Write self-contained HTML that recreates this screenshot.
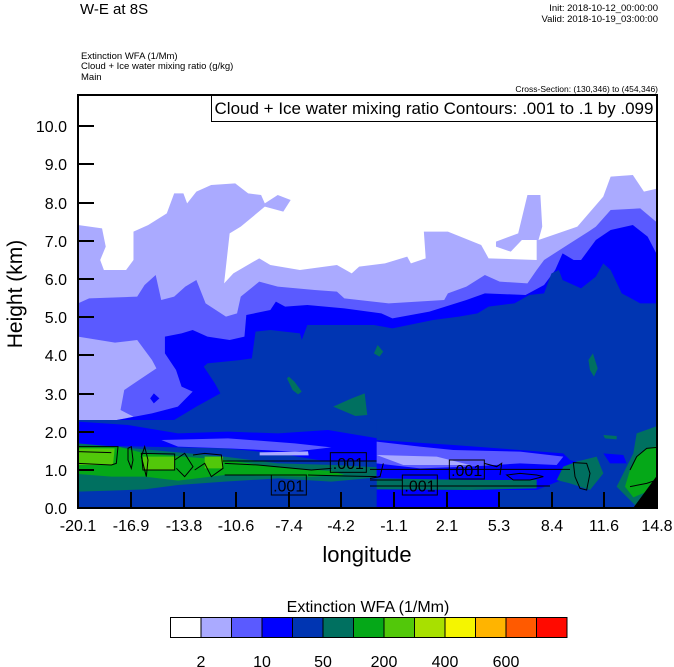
<!DOCTYPE html>
<html><head><meta charset="utf-8"><style>
html,body{margin:0;padding:0;background:#fff;}
svg{display:block;font-family:"Liberation Sans",Arial,sans-serif;}
</style></head><body>
<svg width="674" height="667" viewBox="0 0 674 667" xmlns="http://www.w3.org/2000/svg">
<rect width="674" height="667" fill="#fff"/>
<text x="80" y="14" font-size="15">W-E at 8S</text>
<text x="658" y="11" font-size="9.5" text-anchor="end">Init: 2018-10-12_00:00:00</text>
<text x="658" y="22" font-size="9.5" text-anchor="end">Valid: 2018-10-19_03:00:00</text>
<text x="81" y="59" font-size="9.5">Extinction WFA   (1/Mm)</text>
<text x="81" y="69" font-size="9.5">Cloud + Ice water mixing ratio    (g/kg)</text>
<text x="81" y="80" font-size="9.5">Main</text>
<text x="658" y="92" font-size="8.5" text-anchor="end">Cross-Section: (130,346) to (454,346)</text>

<defs><clipPath id="pc"><rect x="78" y="95" width="579" height="413"/></clipPath></defs>
<g clip-path="url(#pc)">
<rect x="78" y="95" width="579" height="413" fill="#fff"/>
<g transform="translate(78 160) scale(0.3699 0.33333)">
<polygon fill="#AAAAFF" points="0,195 65,205 75,260 60,300 70,330 130,330 150,300 150,215 190,195 240,160 260,100 285,100 295,130 320,95 360,75 425,70 460,100 495,105 505,130 540,105 575,120 555,155 505,140 440,200 410,220 395,370 420,340 490,295 520,315 600,330 700,315 740,340 760,320 830,310 890,290 900,310 940,295 935,215 1000,215 1090,255 1110,295 1240,300 1240,240 1200,240 1170,275 1130,260 1130,245 1190,220 1215,105 1250,105 1255,200 1245,240 1350,200 1420,110 1440,50 1500,45 1530,95 1568,85 1740,85 1740,900 0,900"/>
<polygon fill="#5A5AFF" points="0,430 30,415 160,410 180,375 210,345 225,420 260,410 290,380 320,360 345,430 400,470 430,460 440,410 490,365 540,380 640,390 700,395 720,415 840,430 990,420 1000,400 1050,380 1100,345 1140,365 1215,370 1240,330 1260,300 1330,250 1380,215 1400,200 1440,150 1520,145 1568,190 1740,190 1740,900 0,900"/>
<polygon fill="#AAAAFF" points="0,530 100,548 160,540 200,600 212,625 165,660 125,690 115,750 150,770 60,790 0,790"/>
<polygon fill="#0000FF" points="0,800 130,775 200,760 270,740 310,695 280,680 265,630 235,580 235,530 280,520 310,510 350,530 410,540 450,530 455,465 520,450 535,425 560,440 620,435 720,445 820,460 850,475 950,455 1050,420 1100,400 1210,405 1260,375 1290,330 1310,280 1340,300 1360,300 1400,240 1440,210 1500,195 1540,230 1568,290 1740,290 1740,900 0,900"/>
<polygon fill="#0000FF" points="195,715 205,700 220,715 205,730"/>
<polygon fill="#0035B2" points="0,835 200,830 260,780 320,740 385,700 370,670 340,620 350,610 440,600 470,595 480,515 520,510 600,520 605,540 620,495 700,495 800,495 850,505 960,480 1030,470 1080,460 1110,440 1180,430 1220,405 1260,400 1280,340 1300,330 1310,360 1360,385 1400,350 1420,310 1440,330 1470,400 1520,430 1568,430 1740,430 1740,900 0,900"/>
<polygon fill="#007060" points="565,655 570,650 585,665 605,695 595,703 580,690"/>
<polygon fill="#007060" points="690,740 740,715 775,700 782,765 750,768"/>
<polygon fill="#007060" points="800,580 810,555 825,575 815,590"/>
<polygon fill="#007060" points="1380,600 1392,580 1405,625 1395,650 1384,630"/>
<polygon fill="#007060" points="1420,840 1440,822 1460,830 1470,840"/>
<polygon fill="#007060" points="1510,840 1520,800 1545,795 1560,840"/>
</g>
<!-- lower left -->
<g transform="translate(78 410) scale(0.33333)">
<rect x="0" y="30" width="900" height="270" fill="#0035B2"/>
<polygon fill="#0000FF" points="0,35 150,45 300,70 450,65 600,70 750,60 900,85 900,150 750,155 600,130 440,115 200,110 0,105"/>
<polygon fill="#5A5AFF" points="250,90 450,85 650,100 760,112 650,125 450,115 300,110"/>
<polygon fill="#AAAAFF" points="545,127 690,124 692,136 545,136"/>
<polygon fill="#007060" points="0,100 440,140 600,160 770,165 900,172 900,202 760,215 600,205 440,215 300,225 200,238 100,242 0,245"/>
<polygon fill="#05A818" points="0,108 120,110 200,130 440,150 600,172 760,183 800,195 700,200 440,195 300,212 200,200 100,200 0,192"/>
<polygon fill="#52C80A" points="0,115 110,115 105,165 0,165"/>
<polygon fill="#52C80A" points="195,140 290,140 290,180 195,180"/>
<polygon fill="#52C80A" points="380,140 435,140 435,175 380,175"/>
<g fill="none" stroke="#000" stroke-width="3">
<path d="M0,110 L120,110 L115,160 L100,165 L0,160"/>
<path d="M0,125 L100,128"/>
<path d="M190,130 L290,132 L290,180 L195,180 Z"/>
<path d="M200,110 L210,150 L205,200 L190,140 Z"/>
<path d="M150,115 L160,110 L165,150 L160,175 L150,150 Z"/>
<path d="M290,150 L320,130 L345,170 L320,200 L295,175"/>
<path d="M345,135 L380,130 L430,135 L435,175 L400,200 L380,160 L350,180"/>
<path d="M435,153 L900,153"/>
<path d="M440,195 L580,195"/>
<path d="M440,160 L540,165 L700,180 L760,175"/>
<path d="M690,195 L800,198 L900,200"/>
</g>
<rect x="580" y="195" width="105" height="60" fill="none" stroke="#000" stroke-width="3"/>
<text x="632" y="245" font-size="48" text-anchor="middle">.001</text>
<rect x="757" y="128" width="108" height="59" fill="none" stroke="#000" stroke-width="3"/>
<text x="811" y="177" font-size="48" text-anchor="middle">.001</text>
</g>
<!-- lower right -->
<g transform="translate(370 410) scale(0.33333)">
<rect x="20" y="30" width="870" height="270" fill="#0035B2"/>
<polygon fill="#0000FF" points="20,90 250,105 450,120 580,130 600,150 640,160 600,200 500,240 390,240 390,300 20,300"/>
<polygon fill="#0000FF" points="700,130 760,135 770,160 720,160"/>
<polygon fill="#5A5AFF" points="20,95 150,110 250,120 450,125 580,140 560,165 450,160 300,170 150,175 20,160"/>
<polygon fill="#AAAAFF" points="20,135 200,140 300,165 100,165"/>
<polygon fill="#007060" points="20,205 300,210 500,210 500,235 300,240 20,238"/>
<polygon fill="#007060" points="580,170 620,155 680,140 700,190 660,240 600,220 560,210"/>
<polygon fill="#007060" points="800,70 862,48 862,300 800,290 760,250 740,230 760,190 790,130"/>
<polygon fill="#007060" points="700,75 740,78 740,88 705,85"/>
<polygon fill="#05A818" points="780,180 800,140 830,115 862,108 862,232 790,262 765,230"/>
<polygon fill="#000" points="862,195 870,195 870,300 785,300"/>
<g fill="none" stroke="#000" stroke-width="3">
<path d="M0,178 L600,178"/>
<path d="M0,228 L540,228"/>
<path d="M0,210 L97,210"/>
<path d="M40,160 L30,200 L0,205"/>
<path d="M410,195 L450,190 L500,195 L520,200 L480,210 L430,210 Z"/>
<path d="M610,158 L650,160 L660,190 L650,240 L630,235 L615,200 Z"/>
<path d="M780,180 L800,140 L830,115 L860,112 M780,230 L830,220 L860,210"/>
<path d="M343,160 L380,170 L395,160 L390,195"/>
</g>
<rect x="97" y="195" width="105" height="60" fill="none" stroke="#000" stroke-width="3"/>
<text x="150" y="245" font-size="48" text-anchor="middle">.001</text>
<rect x="238" y="150" width="105" height="57" fill="none" stroke="#000" stroke-width="3"/>
<text x="290" y="198" font-size="48" text-anchor="middle">.001</text>
</g>
</g>
<rect x="211.5" y="95.5" width="445" height="26" fill="#fff" stroke="#000" stroke-width="1"/>
<text x="434" y="114" font-size="17" text-anchor="middle">Cloud + Ice water mixing ratio Contours: .001 to .1 by .099</text>
<rect x="78" y="95" width="579" height="413" fill="none" stroke="#000" stroke-width="2"/>
<g stroke="#000" stroke-width="2">
<path d="M78,470h16M78,432h16M78,394h16M78,355h16M78,317h16M78,279h16M78,241h16M78,203h16M78,164h16M78,126h16"/>
<path d="M131,508v-16M184,508v-16M236,508v-16M289,508v-16M341,508v-16M394,508v-16M447,508v-16M499,508v-16M552,508v-16M604,508v-16"/>
</g>
<g font-size="16" text-anchor="end">
<text x="67" y="514">0.0</text><text x="67" y="476">1.0</text><text x="67" y="438">2.0</text><text x="67" y="400">3.0</text><text x="67" y="361">4.0</text><text x="67" y="323">5.0</text><text x="67" y="285">6.0</text><text x="67" y="247">7.0</text><text x="67" y="209">8.0</text><text x="67" y="170">9.0</text><text x="67" y="132">10.0</text>
</g>
<g font-size="16" text-anchor="middle">
<text x="78" y="531">-20.1</text><text x="131" y="531">-16.9</text><text x="184" y="531">-13.8</text><text x="236" y="531">-10.6</text><text x="289" y="531">-7.4</text><text x="341" y="531">-4.2</text><text x="394" y="531">-1.1</text><text x="447" y="531">2.1</text><text x="499" y="531">5.3</text><text x="552" y="531">8.4</text><text x="604" y="531">11.6</text><text x="657" y="531">14.8</text>
</g>
<text x="367" y="562" font-size="22" text-anchor="middle">longitude</text>
<text transform="translate(22 294) rotate(-90)" font-size="21" text-anchor="middle">Height (km)</text>
<text x="368" y="612" font-size="16" text-anchor="middle">Extinction WFA  (1/Mm)</text>
<g stroke="#000" stroke-width="1">
<rect x="170.5" y="617.5" width="30.5" height="20" fill="#fff"/>
<rect x="201" y="617.5" width="30.5" height="20" fill="#AAAAFF"/>
<rect x="231.5" y="617.5" width="30.5" height="20" fill="#5A5AFF"/>
<rect x="262" y="617.5" width="30.5" height="20" fill="#0000FF"/>
<rect x="292.5" y="617.5" width="30.5" height="20" fill="#0035B2"/>
<rect x="323" y="617.5" width="30.5" height="20" fill="#007060"/>
<rect x="353.5" y="617.5" width="30.5" height="20" fill="#05A818"/>
<rect x="384" y="617.5" width="30.5" height="20" fill="#52C80A"/>
<rect x="414.5" y="617.5" width="30.5" height="20" fill="#A8E000"/>
<rect x="445" y="617.5" width="30.5" height="20" fill="#F5F500"/>
<rect x="475.5" y="617.5" width="30.5" height="20" fill="#FFB400"/>
<rect x="506" y="617.5" width="30.5" height="20" fill="#FF5A00"/>
<rect x="536.5" y="617.5" width="30.5" height="20" fill="#FF0A00"/>
</g>
<g font-size="16" text-anchor="middle">
<text x="201" y="667">2</text><text x="262" y="667">10</text><text x="323" y="667">50</text><text x="384" y="667">200</text><text x="445" y="667">400</text><text x="506" y="667">600</text>
</g>
</svg>
</body></html>
